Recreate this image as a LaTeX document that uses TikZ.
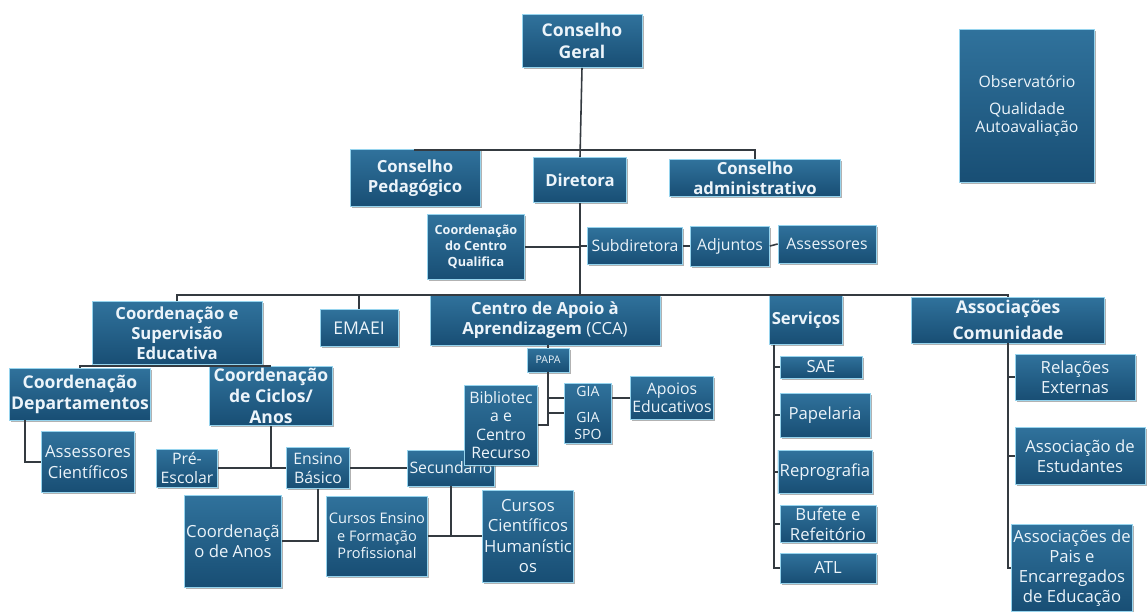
\documentclass[tikz,border=0pt]{standalone}
\usepackage{fontspec}
\setmainfont{Open Sans}
\usetikzlibrary{shadows}
\definecolor{boxtop}{RGB}{48,114,156}
\definecolor{boxbot}{RGB}{24,78,116}
\definecolor{boxedge}{RGB}{150,212,238}
\definecolor{linecol}{RGB}{52,58,64}
\definecolor{txt}{RGB}{236,244,250}

\tikzset{
  box/.style={top color=boxtop, bottom color=boxbot, draw=boxedge, line width=0.4pt,
    text=txt, align=center, inner sep=1pt,
    drop shadow={shadow xshift=0.9pt, shadow yshift=-0.9pt, fill=black!60}},
  sz/.style 2 args={minimum width=#1*0.02cm, minimum height=#2*0.02cm},
  fb/.style={font=\fontsize{9.5}{11.5}\selectfont\bfseries},
  fr/.style={font=\fontsize{9.5}{11.5}\selectfont},
  link/.style={draw=linecol, line width=0.9pt}
}

\begin{document}
\begin{tikzpicture}[x=0.02cm, y=-0.02cm]
  \path[fill=white] (0,0) rectangle (1147,612);
  \useasboundingbox (0,0) rectangle (1147,612);

  % top
  \node[box, sz={120}{53}, font=\fontsize{10}{12.5}\selectfont\bfseries] (geral) at (582,41) {Conselho\\Geral};
  \node[box, sz={135}{153}, font=\fontsize{9}{10.5}\selectfont] (obs) at (1027,106) {Observatório\\[5pt]Qualidade\\Autoavaliação};
  \node[box, sz={130}{57}, fb] (pedag) at (415,178) {Conselho\\Pedagógico};
  \node[box, sz={93}{45}, fb] (diretora) at (580,180) {Diretora};
  \node[box, sz={171}{36}, fb] (admin) at (755,178) {Conselho\\administrativo};

  % direction
  \node[box, sz={97}{65}, font=\fontsize{7.2}{9}\selectfont\bfseries] (qualifica) at (476,247) {Coordenação\\do Centro\\Qualifica};
  \node[box, sz={95}{37}, font=\fontsize{9}{11}\selectfont] (subdir) at (635,246) {Subdiretora};
  \node[box, sz={79}{40}, font=\fontsize{9}{11}\selectfont] (adjuntos) at (730,246) {Adjuntos};
  \node[box, sz={98}{38}, font=\fontsize{9}{11}\selectfont] (assessores) at (827,244) {Assessores};

  % second level
  \node[box, sz={170}{63}, fb] (supervisao) at (177,333) {Coordenação e\\Supervisão\\Educativa};
  \node[box, sz={78}{37}, font=\fontsize{10}{12}\selectfont] (emaei) at (359,328) {EMAEI};
  \node[box, sz={230}{50}, fb] (cca) at (545,320) {Centro de Apoio à\\Aprendizagem \mdseries(CCA)};
  \node[box, sz={73}{49}, fb] (servicos) at (806,320) {Serviços};
  \node[box, sz={193}{46}, font=\fontsize{10}{15}\selectfont\bfseries] (assoc) at (1008,320) {Associações\\Comunidade};

  % pedagogic branch
  \node[box, sz={135}{52}, font=\fontsize{10}{12}\selectfont\bfseries] (departamentos) at (80,394) {Coordenação\\Departamentos};
  \node[box, sz={123}{57}, font=\fontsize{10}{12}\selectfont\bfseries] (ciclos) at (271,396) {Coordenação\\de Ciclos/\\Anos};
  \node[box, sz={93}{61}, fr] (cientificos) at (88,462) {Assessores\\Científicos};
  \node[box, sz={61}{38}, font=\fontsize{9}{11}\selectfont] (preescolar) at (187,468) {Pré-\\Escolar};
  \node[box, sz={63}{41}, font=\fontsize{9}{11}\selectfont] (basico) at (318,468) {Ensino\\Básico};
  \node[box, sz={87}{36}, font=\fontsize{9}{11}\selectfont] (secundario) at (451,468) {Secundário};
  \node[box, sz={73}{80}, font=\fontsize{9}{10.5}\selectfont] (biblioteca) at (501,425) {Bibliotec\\a e\\Centro\\Recurso};
  \node[box, sz={97}{92}, fr] (anos) at (233,541) {Coordenaçã\\o de Anos};
  \node[box, sz={101}{80}, font=\fontsize{8.3}{10}\selectfont] (profissional) at (377,536) {Cursos Ensino\\e Formação\\Profissional};
  \node[box, sz={80}{92}, fr] (humanisticos) at (528,536) {Cursos\\Científicos\\Humanístic\\os};

  % CCA branch
  \node[box, sz={42}{24}, font=\fontsize{6}{7}\selectfont] (papa) at (548,360) {PAPA};
  \node[box, sz={47}{60}, font=\fontsize{8}{9.5}\selectfont] (gia) at (588,413) {GIA\\[5pt]GIA\\SPO};
  \node[box, sz={80}{43}, font=\fontsize{9}{10.5}\selectfont] (apoios) at (672,398) {Apoios\\Educativos};

  % services
  \node[box, sz={82}{22}, fr] (sae) at (821,367) {SAE};
  \node[box, sz={90}{44}, fr] (papelaria) at (825,415) {Papelaria};
  \node[box, sz={90}{43}, fr] (reprografia) at (825,472) {Reprografia};
  \node[box, sz={96}{32}, fr] (bufete) at (828,524) {Bufete e\\Refeitório};
  \node[box, sz={96}{30}, fr] (atl) at (828,568) {ATL};

  % community
  \node[box, sz={120}{46}, fr] (relacoes) at (1075,377) {Relações\\Externas};
  \node[box, sz={130}{57}, fr] (estudantes) at (1080,456) {Associação de\\Estudantes};
  \node[box, sz={115}{87}, fr] (pais) at (1072,568) {Associações de\\Pais e\\Encarregados\\de Educação};

  % connectors
  \coordinate (busA) at (580,150);
  \coordinate (busB) at (580,295);
  \draw[link] (geral.south) -- (diretora.north);
  \draw[link] (pedag.north) |- (busA) -| (admin.north);
  \draw[link] (diretora.south) -- (busB);
  \draw[link] (qualifica.east) -- (qualifica.east -| busB);
  \draw[link] (busB |- subdir.west) -- (subdir.west);
  \draw[link] (subdir.east) -- (adjuntos.west);
  \draw[link] (adjuntos.east) -- (assessores.west);

  \draw[link] (supervisao.north) |- (busB) -| (assoc.north);
  \draw[link] (busB -| emaei.north) -- (emaei.north);
  \draw[link] (busB -| servicos.north) -- (servicos.north);

  \draw[link] (supervisao.south) -- (supervisao.south |- ciclos.north);
  \draw[link] (departamentos.north) |- (ciclos.north);
  \draw[link] ([xshift=-1.1cm]departamentos.south) |- (cientificos.west);
  \draw[link] (ciclos.south) -- (ciclos.south |- basico.west);
  \draw[link] (preescolar.east) -- (basico.west);
  \draw[link] (basico.east) -- (secundario.west);
  \draw[link] (basico.south) |- (anos.east);
  \draw[link] (secundario.south) -- (secundario.south |- profissional.east);
  \draw[link] (profissional.east) -- (humanisticos.west);

  \draw[link] (cca.south -| papa.north) -- (papa.north);
  \draw[link] (papa.south) |- (biblioteca.east);
  \draw[link] (papa.south |- gia.west) -- (gia.west);
  \draw[link] (papa.south |- apoios.west) -- (gia.west |- apoios.west);
  \draw[link] (gia.east |- apoios.west) -- (apoios.west);

  \draw[link] ([xshift=0.1cm]servicos.south west) |- (atl.west);
  \foreach \n in {sae,papelaria,reprografia,bufete}
    \draw[link] ([xshift=0.1cm]servicos.south west |- \n.west) -- (\n.west);

  \draw[link] (assoc.south) |- (pais.west);
  \foreach \n in {relacoes,estudantes}
    \draw[link] (assoc.south |- \n.west) -- (\n.west);
\end{tikzpicture}
\end{document}
